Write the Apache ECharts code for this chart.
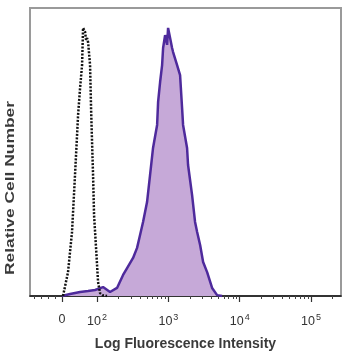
<!DOCTYPE html>
<html>
<head>
<meta charset="utf-8">
<script src="https://cdn.jsdelivr.net/npm/echarts@6/dist/echarts.min.js"></script>
<style>html,body{margin:0;padding:0;background:#fff}#c{width:358px;height:358px}</style>
</head>
<body>
<div id="c"></div>
<script>
// x values are in display "decade" units of the biexponential axis (2 = 10^2, 3 = 10^3 ...)
const isotypeX = [1.523,1.551,1.593,1.649,1.691,1.734,1.762,1.790,1.804,1.818,1.832,1.846,1.860,1.874,1.902,1.916,1.930,1.944,1.958,1.986,2.014,2.042,2.084,2.140];
const isotypeY = [0,0,8.3,22.2,42.0,62.8,72.2,80.2,93.1,93.4,91.7,88.9,89.6,88.2,80.2,65.3,53.5,42.0,28.1,16.7,4.9,1.0,0.2,0];

const stainedX = [1.509,1.621,1.762,1.874,1.972,2.084,2.182,2.280,2.365,2.421,2.505,2.561,2.603,2.645,2.701,2.743,2.785,2.842,2.856,2.884,2.912,2.926,2.954,2.982,2.996,3.024,3.052,3.066,3.122,3.164,3.192,3.206,3.262,3.276,3.332,3.374,3.403,3.445,3.487,3.543,3.613,3.683,3.753];
const stainedY = [0,0.7,1.4,1.7,2.1,3.1,1.4,2.8,7.3,9.7,13.2,16.7,21.2,25.7,32.6,42.0,51.4,59.4,67.4,74.3,80.2,86.1,90.6,87.2,93.1,93.4,86.1,84.7,80.2,76.7,65.3,59.4,51.4,45.5,35.1,25.7,22.2,17.7,11.8,8.3,2.8,0.3,0];

const majorTicks = [1.51, 2, 3, 4, 5];
const majorLabels = ['0', '2', '3', '4', '5'];
const minorTicks = [1.12,1.22,1.32,1.42,
  2.301,2.477,2.602,2.699,2.778,2.845,2.903,2.954,
  3.301,3.477,3.602,3.699,3.778,3.845,3.903,3.954,
  4.301,4.477,4.602,4.699,4.778,4.845,4.903,4.954,
  5.301];

const xMin = 1.06, xMax = 5.42;

const chart = echarts.init(document.getElementById('c'), null, {renderer: 'canvas'});
const font = "'Liberation Sans', Arial, sans-serif";

chart.setOption({
  animation: false,
  grid: {left: 30, right: 17, top: 8, bottom: 62, show: true, borderColor: '#9a9a9a', borderWidth: 2, backgroundColor: 'transparent'},
  xAxis: [{
    type: 'value', min: xMin, max: xMax, position: 'bottom',
    axisLine: {show: true, lineStyle: {color: '#111', width: 1.5}},
    splitLine: {show: false},
    axisTick: {show: true, length: 6, lineStyle: {color: '#333', width: 1.2}, customValues: majorTicks},
    axisLabel: {
      customValues: majorTicks, margin: 17, color: '#333', fontFamily: font, fontSize: 12.5,
      formatter: function (v) {
        const i = majorTicks.indexOf(v);
        if (i === 0) return '0';
        return '10{s|' + majorLabels[i] + '}';
      },
      rich: {s: {fontSize: 9, verticalAlign: 'top', padding: [0, 0, 8, 1], color: '#333', fontFamily: font}}
    },
    name: 'Log Fluorescence Intensity', nameLocation: 'middle', nameGap: 41,
    nameTextStyle: {color: '#3a3a3a', fontFamily: font, fontSize: 14, fontWeight: 'bold'}
  }, {
    type: 'value', min: xMin, max: xMax, position: 'bottom',
    axisLine: {show: false}, splitLine: {show: false}, axisLabel: {show: false},
    axisTick: {show: true, length: 3, lineStyle: {color: '#444', width: 1}, customValues: minorTicks}
  }],
  yAxis: {
    type: 'value', min: 0, max: 100,
    axisLine: {show: false}, axisTick: {show: false}, axisLabel: {show: false}, splitLine: {show: false}
  },
  graphic: [{
    type: 'text', x: 11, y: 188, rotation: Math.PI / 2, scaleX: 1.45,
    style: {text: 'Relative Cell Number', fill: '#3a3a3a', font: 'bold 12px ' + font, align: 'center', verticalAlign: 'middle'}
  }],
  series: [{
    name: 'Stained', type: 'line', xAxisIndex: 0, symbol: 'none', z: 2,
    data: stainedX.map((x, i) => [x, stainedY[i]]),
    lineStyle: {color: '#4e2a9c', width: 2.5},
    areaStyle: {color: '#c6a9d8', opacity: 1}
  }, {
    name: 'Isotype', type: 'line', xAxisIndex: 0, symbol: 'none', z: 3,
    data: isotypeX.map((x, i) => [x, isotypeY[i]]),
    lineStyle: {color: '#111', width: 2.5, type: [2, 1.5]}
  }]
});
</script>
</body>
</html>
